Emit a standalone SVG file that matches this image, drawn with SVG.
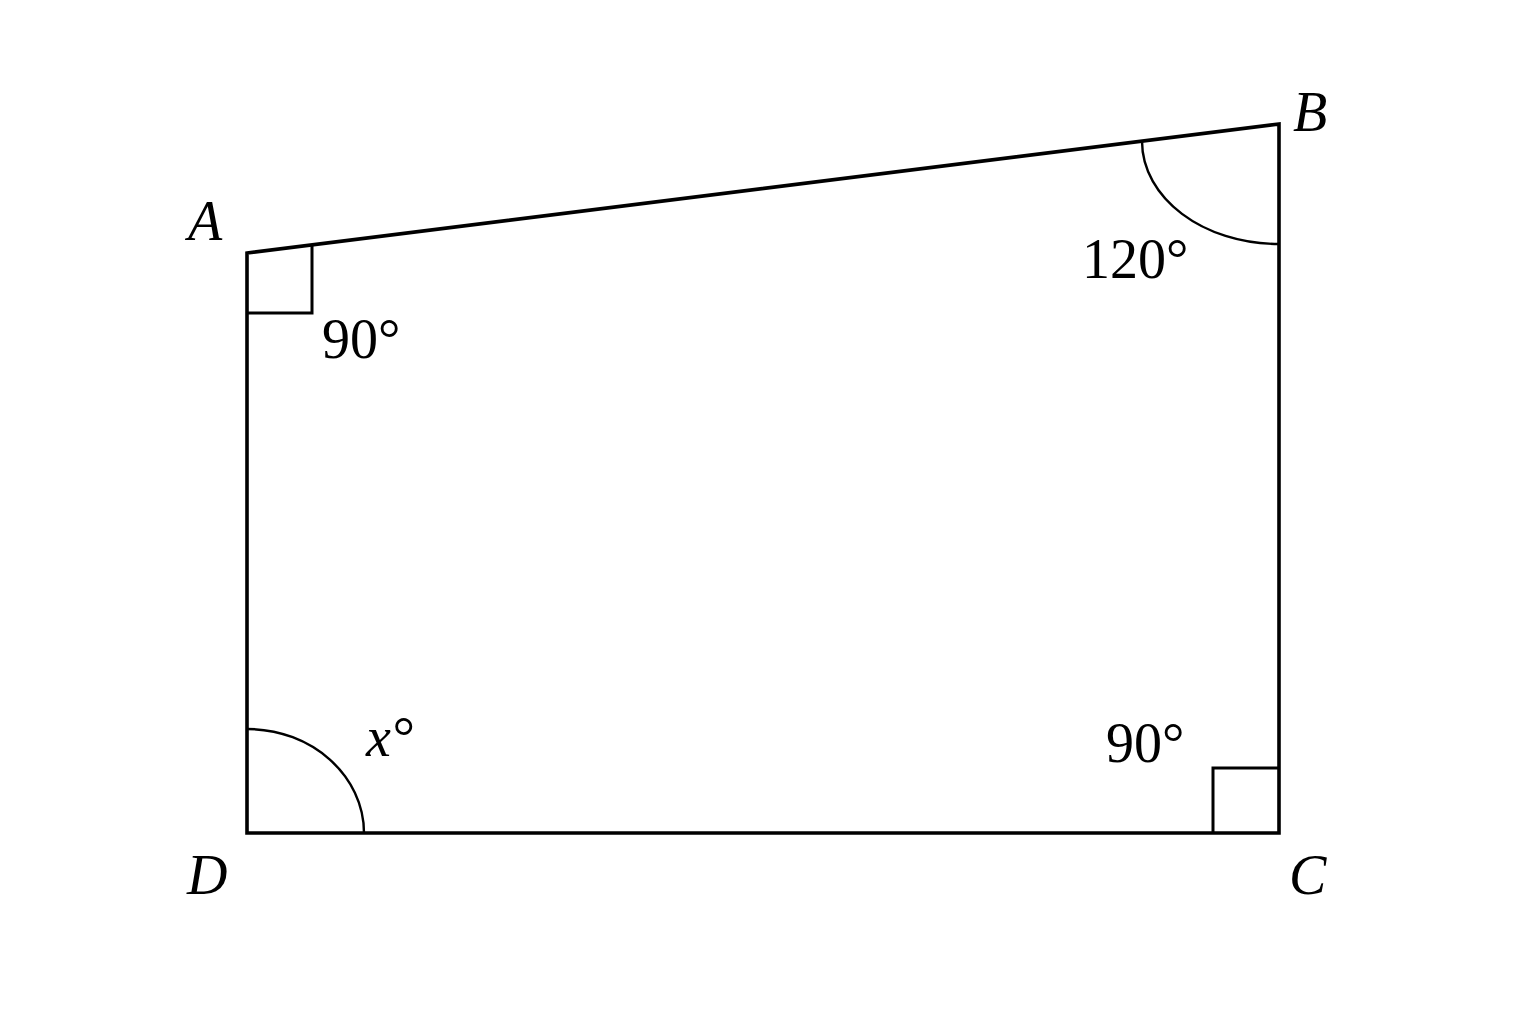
<svg xmlns="http://www.w3.org/2000/svg" width="1536" height="1024" viewBox="0 0 1536 1024">
<style>
.edge{fill:none;stroke:#000;stroke-width:3.6;stroke-linejoin:miter;stroke-linecap:square}
.mark{fill:none;stroke:#000;stroke-width:3}
.arc{fill:none;stroke:#000;stroke-width:2.4}
.lbl{font-family:"Liberation Serif","DejaVu Serif",serif;font-size:56px;fill:#000}
.it{font-style:italic}
</style>
<rect width="1536" height="1024" fill="#fff"/>
<g id="connectors">
<path class="edge" d="M247,253 L1279,124 L1279,833 L247,833 Z"/>
</g>
<g id="angle-A">
<path class="mark" d="M312,246 L312,313 L247,313"/>
<text class="lbl" x="322" y="358">90°</text>
</g>
<g id="angle-B">
<path class="arc" d="M1142,141 C1142,198 1203,244 1279,244"/>
<text class="lbl" x="1082" y="278">120°</text>
</g>
<g id="angle-C">
<path class="mark" d="M1213,833 L1213,768 L1279,768"/>
<text class="lbl" x="1106" y="762">90°</text>
</g>
<g id="angle-D">
<path class="arc" d="M247,729 C312,729 364,776 364,833"/>
<text class="lbl it" x="366" y="756">x°</text>
</g>
<g id="vertex-A"><text class="lbl it" x="188" y="240">A</text></g>
<g id="vertex-B"><text class="lbl it" x="1293" y="131">B</text></g>
<g id="vertex-C"><text class="lbl it" x="1289" y="894">C</text></g>
<g id="vertex-D"><text class="lbl it" x="187" y="894">D</text></g>
</svg>
